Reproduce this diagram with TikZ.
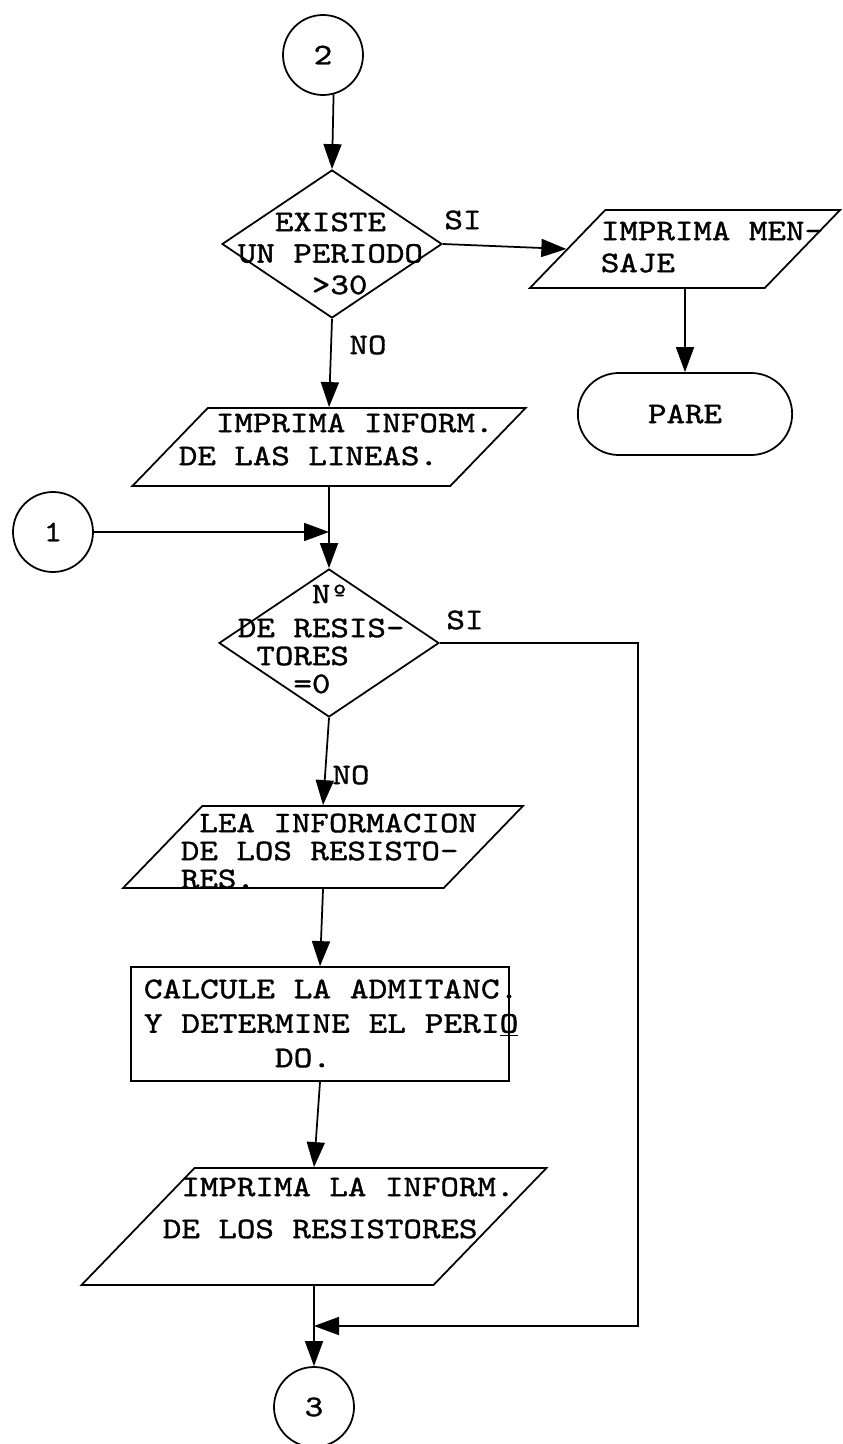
\documentclass[tikz,border=0pt]{standalone}
\usepackage{fontspec}
\usetikzlibrary{shapes.geometric,shapes.misc,arrows.meta}

% typewriter face, a little wider and darker than plain LM Mono
\newfontfamily\tw[FakeStretch=1.18,FakeBold=1.2]{lmmono10-regular.otf}

\begin{document}
\begin{tikzpicture}
        [x=0.2mm,y=-0.2mm,line width=1pt,
         arr/.style={-{Triangle[length=5mm,width=3.6mm]}},
         conn/.style={circle,draw,minimum size=16mm,inner sep=0pt,font=\tw\fontsize{17pt}{20pt}\selectfont},
         decision/.style={diamond,draw,minimum width=44mm,minimum height=29.6mm,inner sep=0pt},
         io/.style 2 args={trapezium,draw,trapezium left angle=46,trapezium right angle=134,
                    inner sep=0pt,text width=#1,text height=#2,text depth=0pt},
         process/.style={rectangle,draw,minimum width=75.6mm,minimum height=22.8mm,inner sep=0pt},
         stop/.style={rounded rectangle,draw,minimum width=45.2mm,minimum height=16.4mm,
                      font=\tw\fontsize{17pt}{20pt}\selectfont},
         txt/.style={font=\tw\fontsize{17pt}{#1}\selectfont,align=left,inner sep=0pt,anchor=west},
         lbl/.style={font=\tw\fontsize{17pt}{20pt}\selectfont,inner sep=0pt}]
        \useasboundingbox (0,0) rectangle (842,1444);

        % top: connector 2 and the first test
        \node[conn] (c2) at (323,55) {2};
        \node[decision] (d1) at (332,244) {};
        \node[txt=17.9pt] (t1) at (237,253.5) {\hphantom{XX}EXISTE\\UN PERIODO\\\hphantom{XXXX}>30};
        \node[lbl] (si1) at (463,220) {SI};
        \node[lbl] (no1) at (368,345) {NO};

        % SI branch
        \node[io={31.9mm}{15.6mm}] (p1) at (685,249) {};
        \node[txt=18.2pt] (t2) at (600,247) {IMPRIMA MEN-\\SAJE};
        \node[stop] (pare) at (685,414) {PARE};

        % NO branch
        \node[io={48.5mm}{15.6mm}] (p2) at (329,447) {};
        \node[txt=18.8pt] (t3) at (178,439.5) {\hphantom{XX}IMPRIMA INFORM.\\DE LAS LINEAS.};

        \node[conn] (c1) at (53,532) {1};
        \node[decision] (d2) at (329,643) {};
        \node[txt=15.9pt] (t4) at (237,639)
            {\hphantom{XXXX}Nº\\[1.2mm]DE RESIS-\\\hphantom{X}TORES\\\hphantom{XXX}=0};
        \node[lbl] (si2) at (465,620) {SI};
        \node[lbl] (no2) at (351,775) {NO};

        \node[io={48.3mm}{16.4mm}] (p3) at (323,847) {};
        \node[txt=15.9pt] (t5) at (180,851) {\hphantom{X}LEA INFORMACION\\DE LOS RESISTO-\\RES.};

        \node[process] (calc) at (320,1024) {};
        \node[txt=19.6pt,font=\tw\fontsize{17.2pt}{19.6pt}\selectfont] (t6) at (143,1023.5)
            {CALCULE LA ADMITANC.\\Y DETERMINE EL PERI\underline{O}\\\hphantom{XXXXXXX}DO.};

        \node[io={47.8mm}{23.4mm}] (p4) at (314,1226.5) {};
        \node[txt=23.9pt] (t7) at (162,1208) {\hphantom{X}IMPRIMA LA INFORM.\\DE LOS RESISTORES};

        \node[conn] (c3) at (314,1407) {3};

        \coordinate (j1) at (c1 -| d2);
        \coordinate (ret) at (638,1326);
        \coordinate (j3) at (ret -| c3);

        \draw[arr] (c2.-75) -- (d1.north);
        \draw[arr] (d1.east) -- (p1.west);
        \draw[arr] (p1.south) -- (pare.north);
        \draw[arr] (d1.south) -- (p2.north);
        \draw[arr] (p2.south) -- (d2.north);
        \draw[arr] (c1) -- (j1);
        \draw[arr] (d2.south) -- (p3.north);
        \draw[arr] (p3.south) -- (calc.north);
        \draw[arr] (calc.south) -- (p4.north);
        \draw[arr] (p4.south) -- (c3.north);
        \draw[arr] (d2.east) -| (ret) -- (j3);
    \end{tikzpicture}
\end{document}
